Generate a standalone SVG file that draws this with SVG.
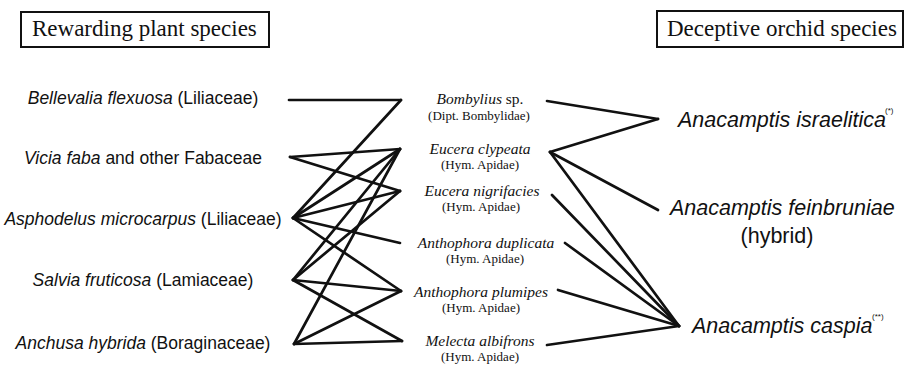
<svg xmlns="http://www.w3.org/2000/svg" width="907" height="365" viewBox="0 0 907 365">
<style>
.hdr{fill:#fff;stroke:#111;stroke-width:2}
.ht{font-family:"Liberation Serif",serif;font-size:23px;fill:#111}
.pl{font-family:"Liberation Sans",sans-serif;font-size:17.5px;fill:#111;text-anchor:middle}
.po{font-family:"Liberation Serif",serif;font-size:15.5px;fill:#111;text-anchor:middle;font-style:italic}
.pf{font-family:"Liberation Serif",serif;font-size:13px;fill:#111;text-anchor:middle}
.or{font-family:"Liberation Sans",sans-serif;font-size:21.5px;fill:#111;font-style:italic}
.sup{font-family:"Liberation Sans",sans-serif;font-size:8px;fill:#111}
.it{font-style:italic}
.rm{font-style:normal}
#connectors line{stroke:#111;stroke-width:2.7;stroke-linecap:round}
</style>
<g id="header-rewarding">
<rect class="hdr" x="21" y="12" width="248" height="35"/>
<text class="ht" x="32" y="36">Rewarding plant species</text>
</g>
<g id="header-deceptive">
<rect class="hdr" x="657" y="11" width="246" height="36"/>
<text class="ht" x="667" y="36">Deceptive orchid species</text>
</g>
<g id="connectors">
<line x1="289" y1="100" x2="401" y2="100"/>
<line x1="293" y1="218" x2="401" y2="100"/>
<line x1="290" y1="157" x2="400" y2="149"/>
<line x1="290" y1="157" x2="400" y2="191"/>
<line x1="293" y1="218" x2="400" y2="149"/>
<line x1="293" y1="218" x2="400" y2="191"/>
<line x1="293" y1="218" x2="400" y2="243"/>
<line x1="293" y1="218" x2="401" y2="291"/>
<line x1="293" y1="280" x2="400" y2="149"/>
<line x1="293" y1="280" x2="400" y2="191"/>
<line x1="293" y1="280" x2="401" y2="291"/>
<line x1="293" y1="280" x2="402" y2="341"/>
<line x1="294" y1="344" x2="400" y2="149"/>
<line x1="294" y1="344" x2="401" y2="291"/>
<line x1="294" y1="344" x2="402" y2="341"/>
<line x1="547" y1="101" x2="658" y2="119"/>
<line x1="550" y1="152" x2="658" y2="119"/>
<line x1="550" y1="152" x2="658" y2="210"/>
<line x1="550" y1="152" x2="679" y2="326"/>
<line x1="552" y1="195" x2="679" y2="326"/>
<line x1="565" y1="243" x2="679" y2="326"/>
<line x1="558" y1="290" x2="679" y2="326"/>
<line x1="547" y1="345" x2="679" y2="326"/>
</g>
<g id="plant-bellevalia"><text class="pl" x="143" y="104"><tspan class="it">Bellevalia flexuosa</tspan> (Liliaceae)</text></g>
<g id="plant-vicia"><text class="pl" x="143" y="164"><tspan class="it">Vicia faba</tspan> and other Fabaceae</text></g>
<g id="plant-asphodelus"><text class="pl" x="143" y="225"><tspan class="it">Asphodelus microcarpus</tspan> (Liliaceae)</text></g>
<g id="plant-salvia"><text class="pl" x="143" y="286"><tspan class="it">Salvia fruticosa</tspan> (Lamiaceae)</text></g>
<g id="plant-anchusa"><text class="pl" x="143" y="349"><tspan class="it">Anchusa hybrida</tspan> (Boraginaceae)</text></g>
<g id="poll-bombylius"><text class="po" x="480" y="104">Bombylius<tspan class="rm"> sp.</tspan></text><text class="pf" x="479" y="120">(Dipt. Bombylidae)</text></g>
<g id="poll-eucera-clypeata"><text class="po" x="480" y="154">Eucera clypeata</text><text class="pf" x="480" y="169">(Hym. Apidae)</text></g>
<g id="poll-eucera-nigrifacies"><text class="po" x="482" y="196">Eucera nigrifacies</text><text class="pf" x="481" y="211">(Hym. Apidae)</text></g>
<g id="poll-anthophora-duplicata"><text class="po" x="486" y="248">Anthophora duplicata</text><text class="pf" x="485" y="263">(Hym. Apidae)</text></g>
<g id="poll-anthophora-plumipes"><text class="po" x="481" y="297">Anthophora plumipes</text><text class="pf" x="481" y="312">(Hym. Apidae)</text></g>
<g id="poll-melecta"><text class="po" x="480" y="346">Melecta albifrons</text><text class="pf" x="480" y="361">(Hym. Apidae)</text></g>
<g id="orchid-israelitica"><text class="or" x="678" y="127">Anacamptis israelitica</text><text class="sup" x="885" y="113">(*)</text></g>
<g id="orchid-feinbruniae"><text class="or" x="670" y="215">Anacamptis feinbruniae</text><text class="or rm" x="777" y="243" text-anchor="middle" style="font-style:normal">(hybrid)</text></g>
<g id="orchid-caspia"><text class="or" x="692" y="333">Anacamptis caspia</text><text class="sup" x="872" y="319">(**)</text></g>
</svg>
